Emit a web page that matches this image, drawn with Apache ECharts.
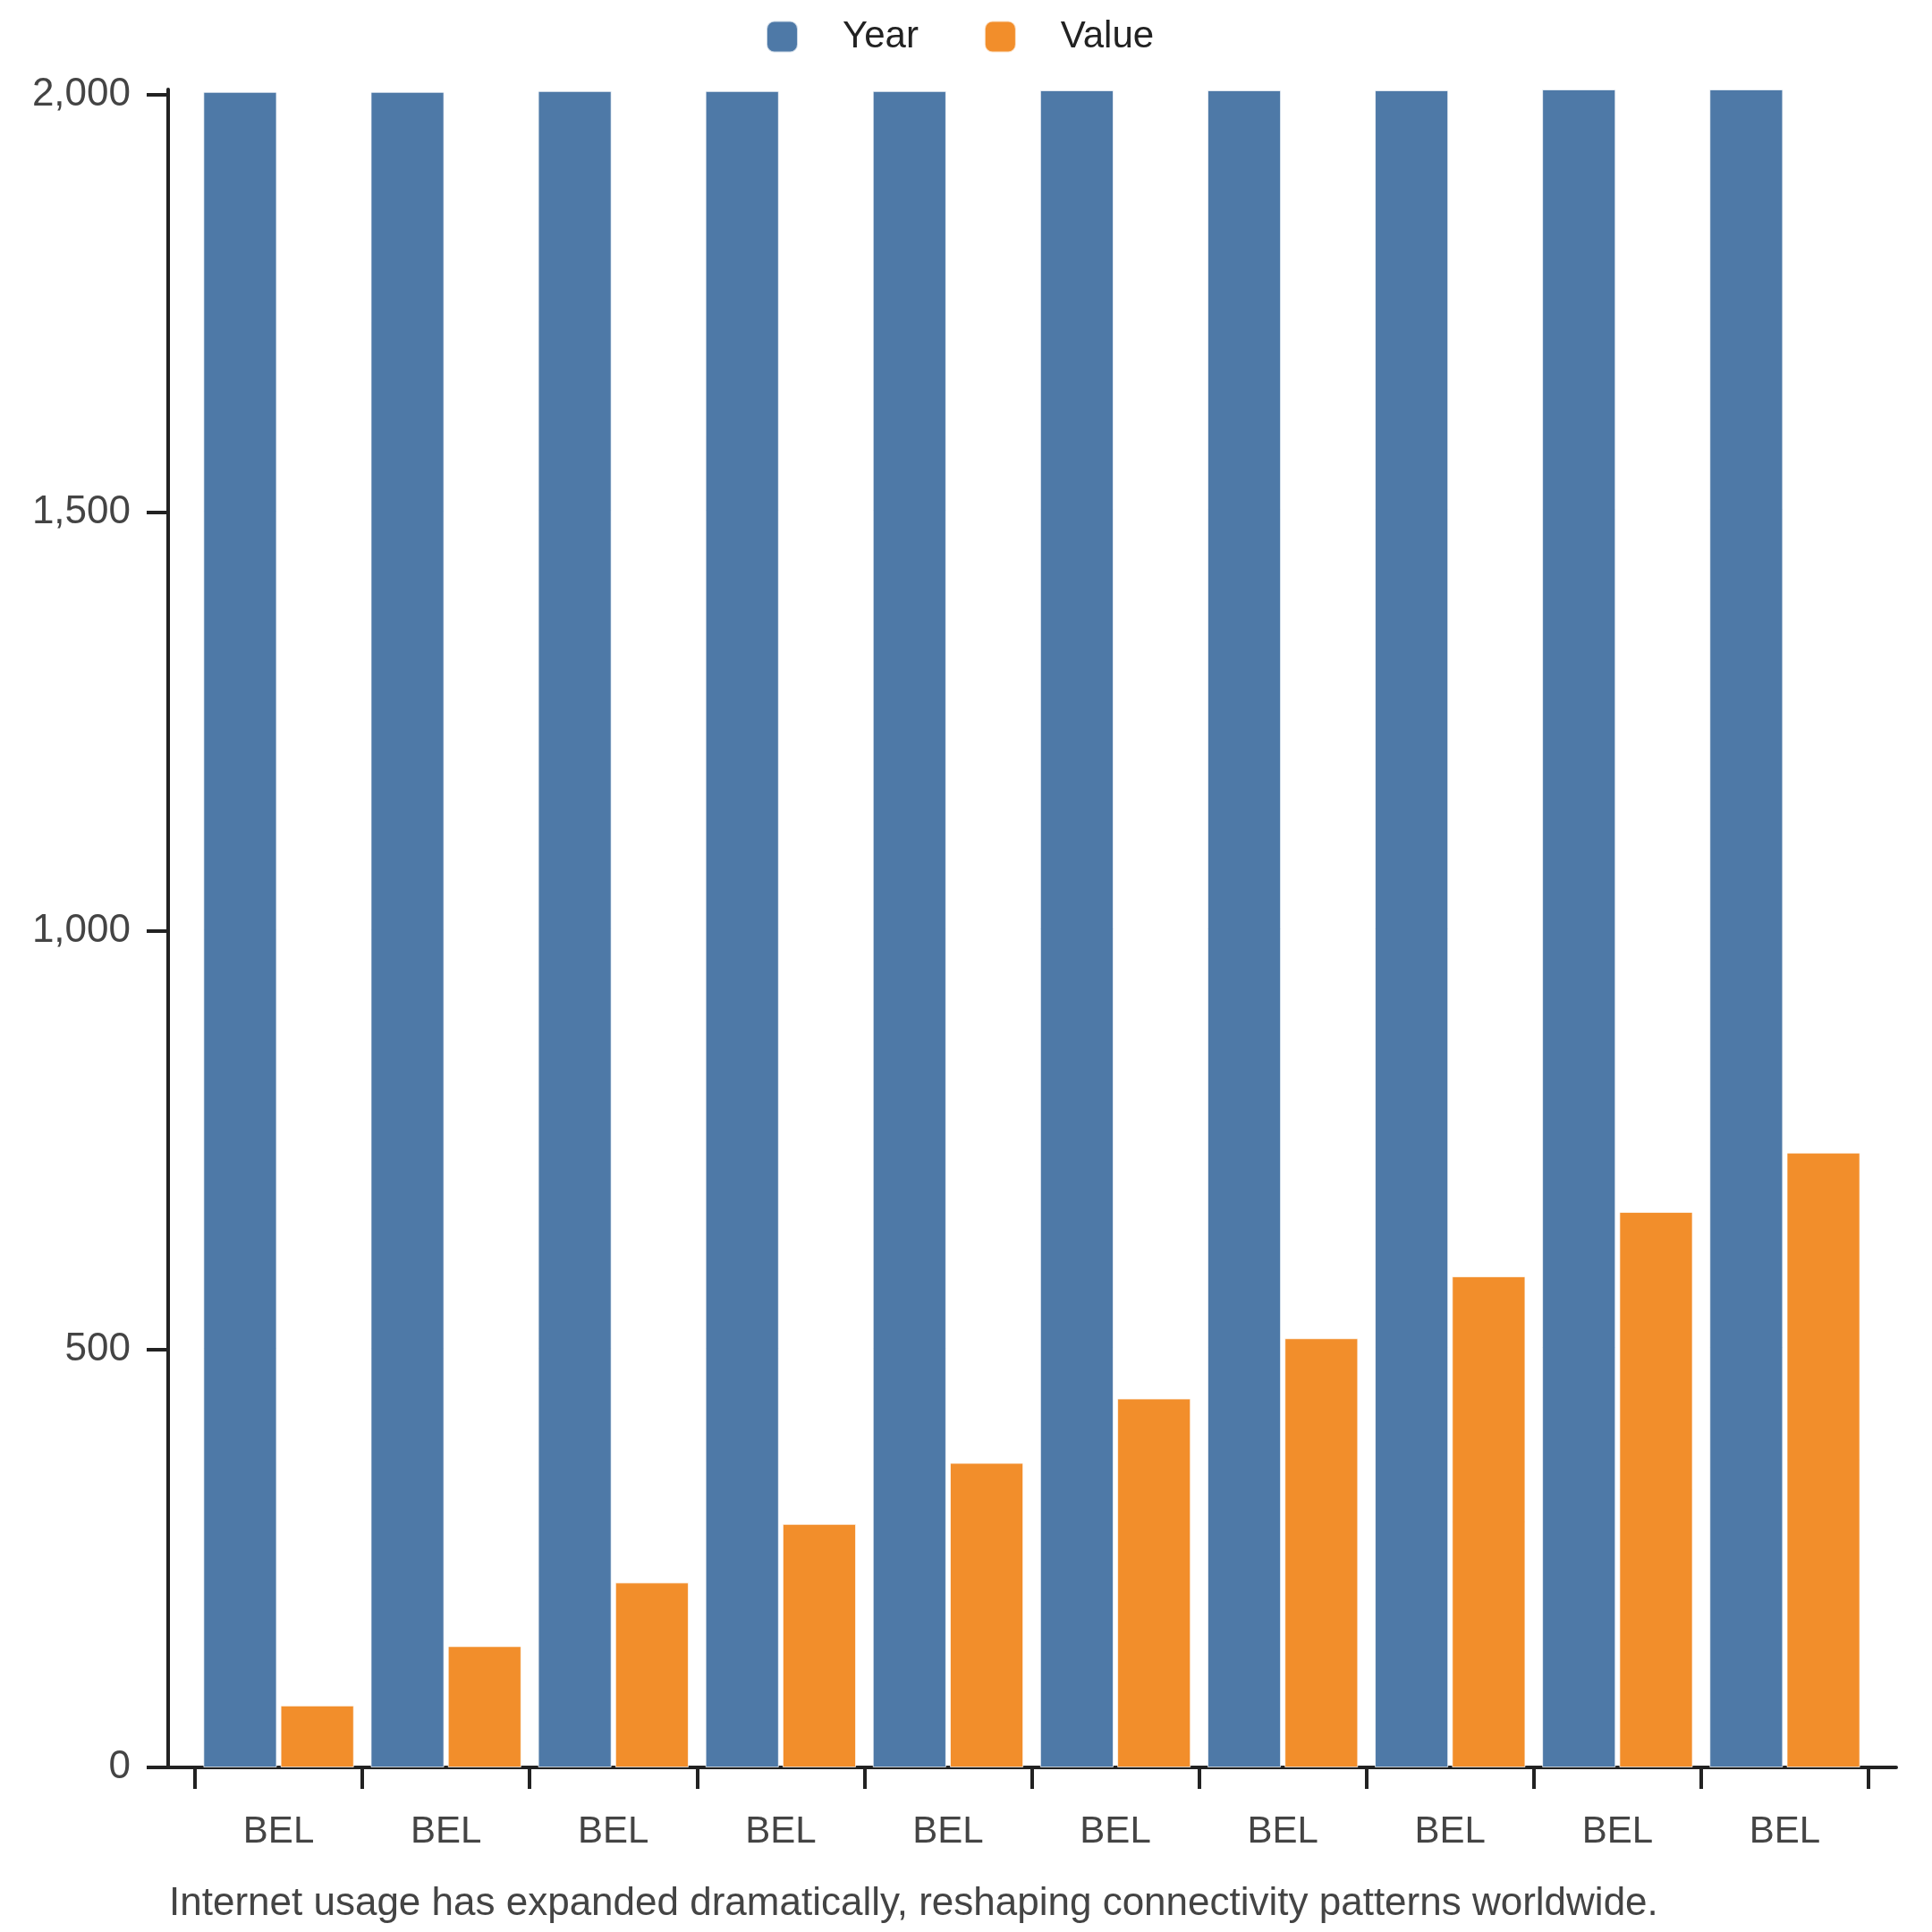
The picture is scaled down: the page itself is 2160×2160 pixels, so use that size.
<!DOCTYPE html>
<html lang="en">

<head>
    <meta charset="UTF-8">
    <meta name="viewport" content="width=device-width, initial-scale=1.0">
    <title>Internet usage</title>
    <script src="https://cdn.jsdelivr.net/npm/echarts@6.0.0/dist/echarts.min.js"></script>
    <style>
        html, body { margin: 0; padding: 0; background: #fff; }
    </style>
</head>

<body>
    <div id="main" style="width: 2160px;height:2160px;"></div>
    <script type="text/javascript">
        // Data
        const categories = ['BEL', 'BEL', 'BEL', 'BEL', 'BEL', 'BEL', 'BEL', 'BEL', 'BEL', 'BEL'];
        const years = [2003, 2003, 2004, 2004, 2004, 2005, 2005, 2005, 2006, 2006];
        const values = [74, 145, 221, 291, 364, 441, 513, 587, 664, 735];
        const yTicks = [0, 500, 1000, 1500, 2000];
        const caption = 'Internet usage has expanded dramatically, reshaping connectivity patterns worldwide.';

        const yMax = Math.max(...years, ...values);
        const font = 'Liberation Sans, Arial, sans-serif';
        const axisColor = '#222';
        const labelColor = '#444';

        let myChart = echarts.init(document.getElementById('main'));

        let options = {
            animation: false,
            textStyle: { fontFamily: font },
            title: {
                text: caption,
                left: 189,
                top: 2107,
                padding: 0,
                textStyle: { fontSize: 44, fontWeight: 'normal', color: labelColor, fontFamily: font }
            },
            legend: {
                left: 856,
                top: 20,
                padding: 0,
                itemWidth: 35,
                itemHeight: 35,
                itemGap: 73,
                icon: 'roundRect',
                textStyle: { fontSize: 42, color: '#222', padding: [0, 0, 0, 45], fontFamily: font },
                data: ['Year', 'Value']
            },
            // grid 0 carries the axis frame, grid 1 the bars
            grid: [
                { left: 188, right: 40, top: 100, bottom: 184 },
                { left: 218, right: 71, top: 100, bottom: 184 }
            ],
            xAxis: [
                {
                    gridIndex: 0,
                    type: 'category',
                    data: [''],
                    axisLine: { show: true, lineStyle: { color: axisColor, width: 4 } },
                    axisTick: { show: false },
                    axisLabel: { show: false }
                },
                {
                    gridIndex: 1,
                    type: 'category',
                    data: categories,
                    axisLine: { show: true, lineStyle: { color: axisColor, width: 4 } },
                    axisTick: { show: true, length: 24, lineStyle: { color: axisColor, width: 4 } },
                    axisLabel: { interval: 0, fontSize: 42, color: labelColor, margin: 51, fontFamily: font }
                }
            ],
            yAxis: [
                {
                    gridIndex: 0,
                    type: 'value',
                    min: 0,
                    max: yMax,
                    splitLine: { show: false },
                    axisLine: { show: true, lineStyle: { color: axisColor, width: 4 } },
                    axisTick: { show: true, length: 24, customValues: yTicks, lineStyle: { color: axisColor, width: 4 } },
                    axisLabel: {
                        customValues: yTicks,
                        fontSize: 44,
                        color: labelColor,
                        margin: 42,
                        fontFamily: font,
                        formatter: v => v.toLocaleString('en-US')
                    }
                },
                {
                    gridIndex: 1,
                    type: 'value',
                    min: 0,
                    max: yMax,
                    show: false
                }
            ],
            series: [
                {
                    name: 'Year',
                    type: 'bar',
                    xAxisIndex: 1,
                    yAxisIndex: 1,
                    data: years,
                    barCategoryGap: '10%',
                    barGap: '5%',
                    itemStyle: { color: '#4e79a7', borderColor: 'rgba(255,255,255,0.7)', borderWidth: 1 }
                },
                {
                    name: 'Value',
                    type: 'bar',
                    xAxisIndex: 1,
                    yAxisIndex: 1,
                    data: values,
                    barCategoryGap: '10%',
                    barGap: '5%',
                    itemStyle: { color: '#f28e2b', borderColor: 'rgba(255,255,255,0.7)', borderWidth: 1 }
                }
            ]
        };

        myChart.setOption(options);
    </script>
</body>

</html>
